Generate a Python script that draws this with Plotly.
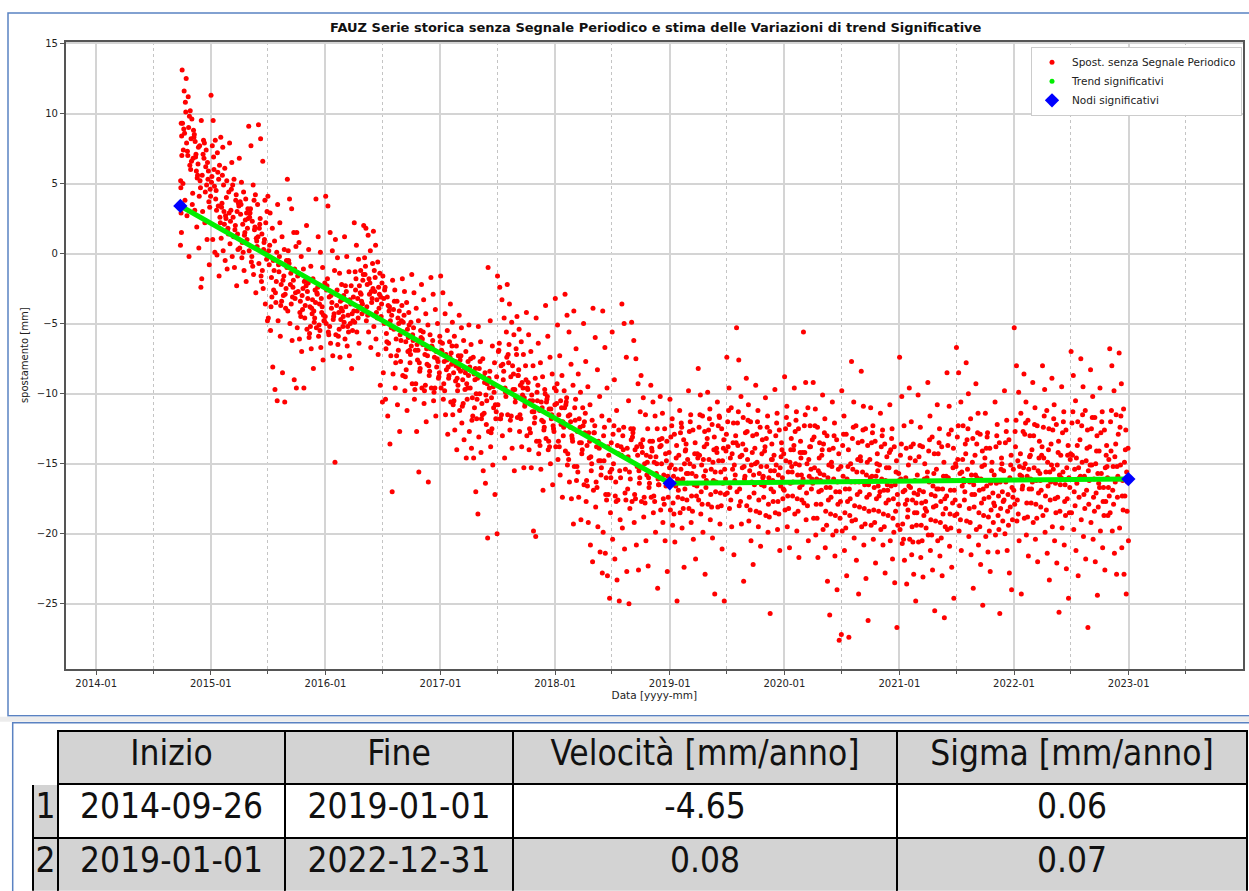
import math
import calendar
import pandas as pd
import plotly.graph_objects as go

# ---------------- data ----------------
# monthly groups of displacement values [mm], months separated by "|"
data_2014 = """0.6 1.5 4.7 7.0 9.3 |
13.1 11.6 12.5 11.2 10.2 9.3 8.6 7.9 9.0 6.0 5.0 3.8 2.7 -0.2 8.2 7.4 |
9.6 8.3 7.1 6.4 5.2 4.3 3.1 1.9 0.4 -2.4 8.8 6.9 5.6 7.7 3.5 |
9.5 8.1 6.2 5.3 4.6 3.0 2.2 1.0 -0.8 -1.8 6.8 7.4 5.9 4.1"""

data_2015 = """11.3 9.5 8.1 7.2 6.3 5.5 6.0 4.5 3.4 2.2 1.0 0.1 -0.1 -1.6 5.1 |
8.3 7.6 6.1 5.2 4.4 3.6 3.0 2.5 1.8 1.1 0.2 -0.5 -1.1 2.9 |
7.9 6.5 5.3 4.2 3.6 3.1 2.6 2.0 1.4 0.7 -0.2 -1.0 -2.3 3.4 |
6.8 5.1 4.4 3.9 3.2 2.8 2.1 1.5 1.0 0.4 -0.3 -1.2 -2.0 2.5 |
9.1 7.7 4.9 4.2 3.5 2.9 2.3 1.7 0.9 0.2 -0.6 -1.5 -2.8 1.2 |
9.2 8.2 6.6 3.8 3.0 2.1 1.4 0.8 0.0 -0.7 -1.6 -2.5 -3.6 -4.8 |
4.1 2.9 1.8 0.9 0.1 -0.8 -1.7 -2.6 -3.5 -4.6 -5.5 -8.1 -9.7 -10.5 |
3.5 2.2 1.2 0.3 -0.5 -1.3 -2.2 -3.0 -3.9 -4.8 -5.9 -8.5 -10.6 -1.0 |
5.3 3.9 3.2 1.5 0.5 -0.5 -1.4 -2.4 -3.2 -4.1 -5.0 -6.2 -9.0 -9.6 |
1.5 0.8 -0.2 -1.1 -1.9 -2.7 -3.4 -4.0 -4.6 -5.3 -6.1 -7.0 -9.6 -2.3 |
2.0 0.3 -0.9 -1.8 -2.6 -3.2 -3.8 -4.3 -4.9 -5.4 -6.0 -6.8 -8.2 -3.5 |
3.9 1.2 0.1 -1.0 -2.1 -2.9 -3.6 -4.2 -4.8 -5.3 -5.9 -6.7 -7.6 -4.5"""

data_2016 = """4.1 3.4 1.5 0.2 -1.2 -2.3 -3.1 -3.9 -4.5 -5.0 -5.6 -6.4 -7.3 -14.9 |
1.0 -0.3 -1.4 -2.2 -3.0 -3.7 -4.2 -4.7 -5.2 -5.8 -6.5 -7.4 -3.3 -4.9 |
1.2 -0.2 -1.3 -2.3 -3.1 -3.8 -4.4 -5.0 -5.5 -6.1 -6.6 -7.3 -8.2 -4.1 |
2.2 0.6 -0.4 -1.2 -1.9 -2.6 -3.2 -3.8 -4.3 -4.9 -5.6 -6.4 -2.9 -1.5 |
2.0 1.8 1.3 0.2 -0.7 -1.5 -2.2 -2.9 -3.5 -4.1 -4.8 -5.6 -6.7 -2.5 |
1.6 0.6 -0.6 -1.4 -2.1 -2.7 -3.3 -3.9 -4.5 -5.2 -6.1 -7.2 -9.4 -10.6 |
-1.6 -2.4 -3.1 -3.8 -4.4 -5.0 -5.7 -6.4 -7.3 -8.5 -10.4 -11.6 -13.6 -17.0 |
-1.9 -2.6 -3.4 -4.1 -4.8 -5.4 -6.1 -6.9 -7.7 -8.6 -9.6 -10.8 -12.7 -3.7 |
-1.8 -2.7 -3.5 -4.2 -4.9 -5.6 -6.3 -7.0 -7.8 -8.7 -9.8 -11.2 -5.1 -6.6 |
-1.5 -2.8 -3.9 -4.8 -5.5 -6.2 -6.9 -7.6 -8.4 -9.3 -10.4 -12.7 -15.6 -6.0 |
-2.2 -3.3 -4.3 -5.1 -5.8 -6.5 -7.2 -7.9 -8.7 -9.6 -10.7 -12.0 -16.3 -6.8 |
-1.7 -2.9 -4.0 -5.0 -5.9 -6.7 -7.4 -8.1 -8.8 -9.6 -10.5 -11.6 -7.7 -6.3"""

data_2017 = """-1.6 -2.8 -4.3 -5.5 -6.3 -7.0 -7.7 -8.3 -8.9 -9.6 -10.4 -11.5 -12.9 -7.4 |
-3.6 -4.9 -5.9 -6.6 -7.3 -7.9 -8.5 -9.1 -9.8 -10.6 -11.5 -12.6 -14.0 -8.2 |
-4.4 -5.3 -6.2 -7.0 -7.7 -8.4 -9.0 -9.7 -10.4 -11.2 -12.1 -13.3 -14.6 -8.7 |
-5.1 -6.5 -7.4 -8.2 -8.9 -9.6 -10.3 -11.0 -11.8 -12.7 -13.9 -14.6 -17.0 -18.6 |
-5.2 -6.3 -7.5 -8.5 -9.3 -10.0 -10.7 -11.4 -12.2 -13.1 -14.2 -15.5 -16.4 -20.3 |
-1.0 -4.8 -6.6 -7.8 -8.8 -9.6 -10.3 -11.0 -11.8 -12.7 -13.8 -15.1 -17.2 -20.0 |
-1.6 -2.4 -3.3 -4.6 -5.6 -6.9 -8.0 -9.0 -9.9 -10.8 -11.8 -13.0 -14.6 -7.4 |
-2.2 -3.6 -4.9 -5.8 -6.8 -7.8 -8.8 -9.7 -10.6 -11.5 -12.6 -13.9 -15.5 -7.2 |
-4.5 -5.4 -6.3 -7.2 -8.0 -8.7 -9.4 -10.1 -10.9 -11.7 -12.7 -13.8 -15.3 -9.0 |
-4.2 -5.8 -7.0 -8.0 -8.9 -9.7 -10.5 -11.3 -12.1 -13.0 -14.0 -15.3 -19.8 -20.2 |
-4.6 -6.4 -7.8 -8.8 -9.7 -10.5 -11.2 -11.9 -12.6 -13.4 -14.3 -15.4 -16.9 -10.0 |
-3.7 -5.9 -7.4 -8.6 -9.6 -10.4 -11.1 -11.8 -12.5 -13.2 -14.0 -15.0 -16.5 -10.8"""

data_2018 = """-3.2 -5.1 -7.3 -8.7 -9.8 -10.7 -11.5 -12.2 -13.0 -13.8 -14.7 -15.8 -17.4 -11.0 |
-2.9 -4.4 -5.6 -7.9 -9.4 -10.6 -11.6 -12.4 -13.2 -14.1 -15.1 -16.3 -17.5 -19.3 |
-4.1 -6.8 -8.6 -9.9 -11.0 -11.9 -12.7 -13.5 -14.3 -15.2 -16.2 -17.4 -19.0 -12.3 |
-5.0 -7.7 -9.5 -10.8 -11.9 -12.8 -13.7 -14.6 -15.5 -16.5 -17.7 -19.2 -20.8 -22.0 |
-3.9 -6.0 -8.3 -10.2 -11.6 -12.8 -13.8 -14.8 -15.8 -16.9 -18.1 -19.5 -21.3 -22.8 |
-4.1 -6.7 -9.6 -11.9 -13.5 -14.8 -16.0 -17.2 -18.5 -19.9 -21.4 -23.0 -24.6 -15.4 |
-5.6 -9.0 -11.2 -12.6 -13.8 -15.0 -16.3 -17.6 -19.0 -20.4 -21.8 -23.3 -24.8 -14.4 |
-3.6 -5.0 -7.4 -10.5 -12.5 -14.0 -15.4 -16.8 -18.2 -19.6 -21.1 -22.7 -25.0 -13.3 |
-4.9 -6.2 -7.5 -9.3 -11.3 -12.8 -14.0 -15.2 -16.4 -17.7 -19.2 -20.8 -22.6 -13.6 |
-8.7 -10.3 -11.5 -12.5 -13.4 -14.2 -15.0 -15.8 -16.7 -17.7 -18.8 -20.5 -22.3 -14.5 |
-9.4 -10.6 -11.6 -12.5 -13.3 -14.1 -14.9 -15.7 -16.5 -17.4 -18.5 -19.9 -23.9 -13.8 |
-10.2 -11.4 -12.5 -13.4 -14.2 -15.0 -15.8 -16.6 -17.4 -18.3 -19.2 -20.5 -22.7 -15.3"""

data_2019 = """-10.4 -11.8 -12.9 -13.7 -14.4 -15.1 -15.9 -16.6 -17.4 -18.3 -19.4 -20.6 -24.8 -16.2 |
-11.2 -12.4 -13.3 -14.0 -14.7 -15.4 -16.1 -16.8 -17.6 -18.5 -19.6 -22.4 -13.6 -15.7 |
-9.8 -11.5 -12.6 -13.5 -14.3 -15.0 -15.7 -16.5 -17.3 -18.2 -19.2 -20.4 -21.8 -14.6 |
-8.2 -10.1 -11.6 -12.7 -13.6 -14.4 -15.1 -15.9 -16.7 -17.6 -18.6 -19.9 -22.9 -13.2 |
-9.9 -11.1 -12.2 -13.1 -13.9 -14.7 -15.4 -16.2 -17.0 -17.9 -19.0 -20.3 -24.3 -14.2 |
-10.6 -11.7 -12.5 -13.3 -14.1 -14.8 -15.6 -16.4 -17.2 -18.1 -19.3 -21.1 -24.8 -12.9 |
-7.4 -9.6 -11.0 -12.1 -13.0 -13.8 -14.6 -15.4 -16.2 -17.1 -18.2 -19.5 -21.5 -13.5 |
-5.3 -7.6 -10.2 -11.7 -12.8 -13.7 -14.5 -15.3 -16.1 -17.0 -18.0 -19.3 -23.4 -14.0 |
-8.9 -10.8 -12.0 -13.0 -13.9 -14.7 -15.5 -16.3 -17.1 -18.0 -19.1 -20.5 -22.2 -15.0 |
-9.4 -11.2 -12.4 -13.3 -14.1 -14.9 -15.7 -16.5 -17.4 -18.4 -19.5 -20.9 -16.0 -13.8 |
-10.3 -11.6 -12.7 -13.6 -14.4 -15.2 -16.0 -16.8 -17.7 -18.7 -19.9 -25.7 -14.7 -15.5 |
-9.7 -11.4 -12.6 -13.5 -14.3 -15.1 -15.8 -16.6 -17.5 -18.5 -19.7 -21.2 -14.0 -16.9"""

data_2020 = """-8.8 -10.9 -12.2 -13.2 -14.0 -14.8 -15.6 -16.4 -17.3 -18.3 -19.5 -21.0 -15.2 -13.7 |
-9.6 -11.3 -12.5 -13.4 -14.2 -15.0 -15.8 -16.7 -17.6 -18.6 -19.8 -21.7 -14.6 -16.1 |
-5.6 -9.2 -11.0 -12.3 -13.3 -14.2 -15.0 -15.9 -16.8 -17.8 -19.0 -20.5 -13.8 -16.4 |
-9.2 -11.1 -12.4 -13.5 -14.4 -15.3 -16.1 -17.0 -17.9 -18.9 -20.1 -21.7 -15.7 -14.0 |
-10.1 -11.8 -13.0 -14.0 -14.9 -15.8 -16.7 -17.6 -18.6 -19.7 -21.0 -23.4 -25.8 -15.2 |
-10.6 -12.1 -13.3 -14.3 -15.2 -16.1 -17.0 -17.9 -18.9 -20.1 -21.6 -24.0 -27.6 -27.2 |
-9.8 -11.6 -12.9 -14.0 -15.0 -15.9 -16.8 -17.7 -18.7 -19.8 -21.2 -23.0 -27.4 -16.3 |
-7.7 -10.6 -12.3 -13.5 -14.5 -15.4 -16.3 -17.2 -18.1 -19.1 -20.3 -21.9 -24.3 -14.8 |
-8.4 -10.9 -12.5 -13.7 -14.7 -15.6 -16.5 -17.4 -18.4 -19.5 -20.8 -23.2 -26.2 -16.0 |
-11.0 -12.3 -13.4 -14.3 -15.1 -15.9 -16.7 -17.5 -18.4 -19.4 -20.4 -22.1 -15.5 -17.0 |
-11.4 -12.6 -13.6 -14.5 -15.3 -16.1 -16.9 -17.8 -18.7 -19.7 -20.8 -22.8 -16.5 -14.2 |
-10.8 -12.5 -13.8 -14.8 -15.7 -16.6 -17.5 -18.4 -19.4 -20.5 -21.8 -23.5 -26.7 -16.2"""

data_2021 = """-7.4 -10.2 -12.3 -13.9 -15.1 -16.1 -17.0 -17.9 -18.8 -19.7 -20.7 -21.9 -23.6 -16.6 |
-9.6 -12.0 -13.6 -14.8 -15.8 -16.7 -17.6 -18.5 -19.4 -20.4 -21.5 -22.9 -24.8 -17.2 |
-10.1 -12.4 -13.8 -15.0 -16.0 -16.9 -17.8 -18.7 -19.6 -20.6 -21.7 -23.1 -18.2 -15.6 |
-9.2 -11.6 -13.1 -14.3 -15.4 -16.3 -17.2 -18.1 -19.1 -20.1 -21.2 -22.6 -25.5 -16.8 |
-10.8 -12.5 -13.8 -14.9 -15.9 -16.8 -17.7 -18.6 -19.5 -20.5 -21.6 -23.0 -26.0 -17.3 |
-8.5 -10.9 -12.6 -13.9 -15.0 -16.0 -16.9 -17.8 -18.7 -19.7 -20.9 -22.4 -24.6 -15.2 |
-6.7 -8.5 -10.6 -12.3 -13.6 -14.7 -15.7 -16.6 -17.6 -18.6 -19.8 -21.2 -16.1 -14.3 |
-7.8 -10.0 -11.8 -13.2 -14.4 -15.4 -16.3 -17.2 -18.1 -19.1 -20.2 -21.5 -23.9 -15.8 |
-9.3 -11.4 -12.9 -14.1 -15.1 -16.0 -16.9 -17.8 -18.7 -19.7 -20.8 -22.2 -25.1 -14.6 |
-11.4 -12.8 -13.9 -14.9 -15.8 -16.6 -17.4 -18.3 -19.2 -20.2 -21.3 -22.7 -16.2 -18.0 |
-10.6 -12.2 -13.5 -14.6 -15.5 -16.4 -17.3 -18.2 -19.1 -20.1 -21.3 -25.7 -15.0 -17.6 |
-9.8 -11.9 -13.3 -14.4 -15.4 -16.3 -17.2 -18.1 -19.0 -20.0 -21.2 -22.8 -24.0 -16.9"""

data_2022 = """-5.3 -8.0 -9.9 -11.4 -12.7 -13.8 -14.8 -15.8 -16.8 -17.9 -19.1 -20.5 -24.3 -15.3 |
-8.6 -10.6 -11.9 -13.0 -14.0 -15.0 -15.9 -16.8 -17.8 -18.9 -20.1 -21.6 -14.4 -16.3 |
-9.2 -11.0 -12.3 -13.4 -14.4 -15.3 -16.2 -17.1 -18.1 -19.2 -20.4 -22.0 -15.7 -13.8 |
-8.0 -9.7 -11.2 -12.5 -13.6 -14.6 -15.6 -16.6 -17.6 -18.7 -19.9 -21.4 -23.3 -15.1 |
-8.9 -10.8 -12.2 -13.4 -14.4 -15.4 -16.4 -17.4 -18.4 -19.5 -20.5 -22.1 -25.6 -16.0 |
-9.5 -11.3 -12.6 -13.7 -14.7 -15.6 -16.5 -17.5 -18.5 -19.6 -20.8 -22.5 -24.6 -14.3 |
-7.0 -8.7 -10.5 -12.0 -13.3 -14.4 -15.4 -16.4 -17.4 -18.5 -19.7 -21.2 -23.0 -15.9 |
-7.5 -9.5 -11.2 -12.6 -13.8 -14.9 -15.9 -16.9 -17.9 -19.0 -20.2 -21.8 -26.7 -15.1 |
-8.3 -10.2 -11.7 -13.0 -14.1 -15.1 -16.1 -17.1 -18.1 -19.2 -20.4 -22.0 -24.4 -16.7 |
-9.6 -11.3 -12.6 -13.7 -14.7 -15.7 -16.7 -17.7 -18.7 -19.8 -21.0 -22.6 -15.2 -17.3 |
-6.8 -8.0 -9.8 -11.5 -12.9 -14.1 -15.2 -16.3 -17.4 -18.5 -19.8 -21.4 -22.9 -16.1 |
-7.1 -9.3 -11.1 -12.6 -13.9 -15.1 -16.2 -17.3 -18.4 -19.6 -21.0 -22.9 -24.3 -20.5"""

# additional observations in the dense core of the cloud, same month layout
core_2014 = """5.2 8.4 2.9 |
10.8 7.3 9.8 6.6 8.9 10.1 7.0 6.3 |
8.5 5.9 7.6 4.7 6.8 8.0 5.4 4.1 |
7.1 4.4 6.5 3.3 5.6 7.9 4.9 3.7"""

core_2015 = """6.9 3.9 5.8 2.6 7.7 4.8 3.1 5.3 |
5.6 2.1 4.0 1.4 3.3 4.9 2.7 1.7 |
4.6 1.2 3.8 0.3 2.3 4.9 1.7 3.0 |
3.5 0.1 2.4 1.8 3.7 0.8 1.3 2.9 |
3.2 -0.9 1.9 0.5 2.6 -0.2 3.8 1.1 |
2.5 -1.2 1.0 -0.4 1.8 -2.0 0.3 2.2 |
0.6 -3.1 -1.2 -2.0 0.2 -3.8 -0.5 -2.8 |
-0.2 -3.4 -1.6 -2.5 -0.8 -3.7 -1.9 -2.9 |
-0.7 -3.6 -1.9 -2.8 0.2 -2.2 -3.1 -1.1 |
-1.4 -4.5 -2.5 -3.7 -1.6 -4.2 -3.0 -2.0 |
-2.1 -5.2 -3.3 -4.6 -2.7 -5.7 -3.9 -4.1 |
-2.4 -5.5 -3.8 -4.8 -2.8 -5.1 -3.2 -4.4"""

core_2016 = """-1.8 -5.2 -3.5 -4.3 -2.6 -5.8 -3.0 -4.7 |
-2.6 -5.4 -3.9 -4.5 -2.9 -5.9 -3.4 -4.1 |
-2.7 -5.6 -3.6 -4.8 -2.3 -5.2 -3.3 -4.3 |
-1.8 -4.6 -2.8 -3.6 -1.3 -4.1 -2.3 -3.4 |
-0.9 -4.4 -2.1 -3.2 -0.3 -3.8 -1.8 -2.7 |
-1.7 -4.6 -2.9 -3.6 -1.2 -4.2 -2.4 -3.1 |
-2.6 -6.3 -4.1 -5.3 -3.2 -6.8 -3.7 -4.8 |
-3.4 -7.3 -5.0 -6.2 -4.0 -7.8 -4.6 -5.8 |
-4.4 -8.3 -6.0 -7.2 -4.9 -8.8 -5.4 -6.9 |
-5.3 -9.3 -6.9 -8.2 -5.8 -9.7 -6.5 -7.8 |
-5.6 -9.4 -7.3 -8.4 -6.1 -9.8 -6.8 -8.0 |
-6.2 -9.6 -7.5 -8.5 -6.6 -9.9 -7.0 -8.9"""

core_2017 = """-6.4 -9.8 -7.6 -8.7 -6.9 -9.3 -7.2 -8.1 |
-6.6 -10.5 -8.0 -9.4 -7.1 -10.8 -7.7 -8.9 |
-7.3 -10.7 -8.5 -9.6 -7.6 -10.9 -8.2 -9.3 |
-7.5 -11.6 -9.0 -10.4 -8.1 -11.9 -8.6 -10.0 |
-7.7 -11.5 -9.2 -10.5 -8.2 -11.8 -8.8 -10.1 |
-8.4 -12.5 -9.9 -11.3 -8.9 -12.8 -9.5 -10.8 |
-6.4 -11.5 -8.4 -10.2 -7.0 -11.8 -7.9 -9.6 |
-6.5 -11.6 -8.6 -10.3 -7.2 -11.9 -8.0 -9.7 |
-8.3 -11.8 -9.6 -10.7 -8.7 -11.5 -9.2 -10.3 |
-9.2 -12.8 -10.5 -11.7 -9.6 -12.5 -10.1 -11.3 |
-9.4 -13.7 -11.0 -12.4 -9.9 -13.4 -10.6 -12.0 |
-10.2 -13.8 -11.5 -12.7 -10.6 -13.4 -11.1 -12.3"""

core_2018 = """-9.3 -13.8 -11.0 -12.4 -9.8 -13.4 -10.5 -12.0 |
-10.3 -14.7 -12.0 -13.4 -10.8 -14.3 -11.5 -13.0 |
-10.4 -15.6 -12.4 -14.0 -11.0 -15.2 -11.8 -13.5 |
-11.4 -16.6 -13.4 -15.0 -12.0 -16.2 -12.8 -14.5 |
-12.3 -16.7 -13.9 -15.3 -12.8 -16.3 -13.4 -14.8 |
-12.4 -17.6 -14.4 -16.0 -13.0 -17.2 -13.8 -15.6 |
-12.3 -17.7 -14.3 -16.0 -12.9 -17.3 -13.7 -15.5 |
-12.4 -17.6 -14.5 -16.1 -13.0 -17.1 -13.9 -15.6 |
-12.5 -17.5 -14.4 -16.0 -13.1 -17.2 -13.8 -15.5 |
-13.3 -17.8 -14.9 -16.4 -13.8 -17.4 -14.4 -16.0 |
-13.4 -17.7 -15.0 -16.5 -13.9 -17.3 -14.5 -16.1 |
-13.2 -17.9 -14.8 -16.4 -13.7 -17.5 -14.3 -15.9"""

core_2019 = """-12.3 -18.6 -14.6 -16.9 -13.1 -17.8 -15.4 -16.1 |
-12.1 -18.2 -14.1 -16.4 -12.8 -17.5 -15.0 -15.7 |
-12.0 -18.4 -14.3 -16.6 -12.7 -17.3 -15.2 -15.9 |
-11.5 -17.9 -13.8 -16.2 -12.4 -17.0 -14.7 -15.5 |
-11.8 -18.1 -14.0 -16.3 -12.6 -17.2 -14.9 -15.6 |
-11.6 -18.0 -13.9 -16.1 -12.3 -17.1 -14.8 -15.4 |
-11.2 -17.6 -13.5 -15.8 -12.0 -16.7 -14.3 -15.1 |
-11.3 -17.7 -13.6 -15.9 -12.1 -16.8 -14.4 -15.2 |
-11.9 -18.3 -14.2 -16.5 -12.7 -17.4 -15.1 -15.8 |
-12.0 -18.5 -14.3 -16.6 -12.9 -17.6 -15.2 -15.9 |
-12.4 -18.8 -14.7 -17.0 -13.2 -17.9 -15.5 -16.2 |
-12.1 -18.6 -14.5 -16.8 -13.0 -17.7 -15.3 -16.0"""

core_2020 = """-11.7 -18.2 -14.0 -16.3 -12.5 -17.3 -14.9 -15.6 |
-11.9 -18.4 -14.2 -16.5 -12.7 -17.5 -15.1 -15.8 |
-11.5 -18.0 -13.8 -16.1 -12.3 -17.1 -14.7 -15.4 |
-12.3 -18.9 -14.6 -16.9 -13.1 -17.9 -15.5 -16.2 |
-12.8 -19.4 -15.1 -17.4 -13.6 -18.4 -16.0 -16.7 |
-13.0 -19.8 -15.4 -17.7 -13.9 -18.7 -16.3 -17.0 |
-12.9 -19.6 -15.2 -17.5 -13.7 -18.5 -16.1 -16.8 |
-12.4 -19.0 -14.7 -17.0 -13.2 -18.0 -15.6 -16.3 |
-12.6 -19.3 -14.9 -17.2 -13.4 -18.2 -15.8 -16.5 |
-12.8 -19.2 -15.0 -17.3 -13.5 -18.3 -15.9 -16.6 |
-13.0 -19.5 -15.3 -17.6 -13.8 -18.6 -16.2 -16.9 |
-13.2 -19.9 -15.6 -17.9 -14.0 -18.9 -16.5 -17.2"""

core_2021 = """-13.6 -20.4 -16.0 -18.3 -14.4 -19.3 -16.9 -17.6 |
-13.8 -20.6 -16.2 -18.5 -14.6 -19.5 -17.1 -17.8 |
-13.7 -20.5 -16.1 -18.4 -14.5 -19.4 -17.0 -17.7 |
-13.3 -20.1 -15.7 -18.0 -14.1 -19.0 -16.6 -17.3 |
-13.5 -20.3 -15.9 -18.2 -14.3 -19.2 -16.8 -17.5 |
-12.9 -19.6 -15.3 -17.6 -13.7 -18.6 -16.2 -16.9 |
-12.3 -19.0 -14.7 -17.0 -13.1 -18.0 -15.6 -16.3 |
-12.5 -19.2 -14.9 -17.2 -13.3 -18.2 -15.8 -16.5 |
-12.8 -19.5 -15.2 -17.5 -13.6 -18.5 -16.1 -16.8 |
-13.1 -19.8 -15.5 -17.8 -13.9 -18.8 -16.4 -17.1 |
-13.0 -19.7 -15.4 -17.7 -13.8 -18.7 -16.3 -17.0 |
-12.7 -19.4 -15.1 -17.4 -13.5 -18.4 -16.0 -16.7"""

core_2022 = """-11.9 -18.6 -14.3 -16.6 -12.7 -17.6 -15.2 -15.9 |
-12.1 -18.8 -14.5 -16.8 -12.9 -17.8 -15.4 -16.1 |
-12.2 -18.9 -14.6 -16.9 -13.0 -17.9 -15.5 -16.2 |
-11.6 -18.3 -14.0 -16.3 -12.4 -17.3 -14.9 -15.6 |
-11.8 -18.5 -14.2 -16.5 -12.6 -17.5 -15.1 -15.8 |
-12.0 -18.7 -14.4 -16.7 -12.8 -17.7 -15.3 -16.0 |
-11.3 -18.0 -13.7 -16.0 -12.1 -17.0 -14.6 -15.3 |
-11.5 -18.2 -13.9 -16.2 -12.3 -17.2 -14.8 -15.5 |
-11.7 -18.4 -14.1 -16.4 -12.5 -17.4 -15.0 -15.7 |
-12.0 -18.7 -14.4 -16.7 -12.8 -17.7 -15.3 -16.0 |
-11.2 -17.9 -13.6 -15.9 -12.0 -16.9 -14.5 -15.2 |
-11.6 -18.3 -14.0 -16.3 -12.4 -17.3 -14.9 -15.6"""

series_start = "2014-09-26"
year_blocks = [(2014, 9, data_2014, core_2014), (2015, 1, data_2015, core_2015),
               (2016, 1, data_2016, core_2016), (2017, 1, data_2017, core_2017),
               (2018, 1, data_2018, core_2018), (2019, 1, data_2019, core_2019),
               (2020, 1, data_2020, core_2020), (2021, 1, data_2021, core_2021),
               (2022, 1, data_2022, core_2022)]

# significant nodes of the trend
node_dates = ["2014-09-26", "2019-01-01", "2022-12-31"]
node_values = [3.4, -16.4, -16.1]

# table
tab_header = ["", "Inizio", "Fine", "Velocità [mm/anno]", "Sigma [mm/anno]"]
tab_index = ["1", "2"]
tab_inizio = ["2014-09-26", "2019-01-01"]
tab_fine = ["2019-01-01", "2022-12-31"]
tab_vel = ["-4.65", "0.08"]
tab_sigma = ["0.06", "0.07"]

# ---------------- build observation dates ----------------
start_ts = pd.Timestamp(series_start)
obs_dates, obs_vals = [], []
for yr, m0, block, core in year_blocks:
    for i, (chunk, chunk2) in enumerate(zip(block.split("|"), core.split("|"))):
        m = m0 + i
        v = [float(t) for t in chunk.split()] + [float(t) for t in chunk2.split()]
        n = len(v)
        ndays = calendar.monthrange(yr, m)[1]
        first = start_ts.day if (yr, m) == (start_ts.year, start_ts.month) else 1
        span = ndays - first + 1
        stride = next(s for s in (5, 3, 7, 11, 13) if math.gcd(s, n) == 1)
        for k, val in enumerate(v):
            slot = (k * stride) % n
            day = first + (slot + 0.5) * span / n
            obs_dates.append(pd.Timestamp(yr, m, 1) + pd.Timedelta(days=day - 1))
            obs_vals.append(val)

# ---------------- figure ----------------
W, H = 1249, 891
def px(x):
    return x / W
def py(y):
    return 1 - y / H

FONT = "DejaVu Sans"
fig = go.Figure()

fig.add_trace(go.Scatter(
    x=obs_dates, y=obs_vals, mode="markers",
    marker=dict(color="red", size=5),
    name="Spost. senza Segnale Periodico"))

fig.add_trace(go.Scatter(
    x=node_dates, y=node_values, mode="lines",
    line=dict(color="#00ee00", width=5), showlegend=False,
    hoverinfo="skip"))
fig.add_trace(go.Scatter(
    x=[None], y=[None], mode="markers",
    marker=dict(color="#00ee00", size=5),
    name="Trend significativi"))

fig.add_trace(go.Scatter(
    x=node_dates, y=node_values, mode="markers",
    marker=dict(color="blue", size=11, symbol="diamond"),
    name="Nodi significativi"))

grey_fill = "#d3d3d3"
TFONT = "DejaVu Sans Condensed, DejaVu Sans"
fig.add_trace(go.Table(
    domain=dict(x=[px(33), px(1247)], y=[0, py(730)]),
    columnwidth=[25, 227, 228, 384, 350],
    header=dict(
        values=tab_header,
        fill_color=["white", grey_fill, grey_fill, grey_fill, grey_fill],
        line=dict(color=["white", "black", "black", "black", "black"], width=2),
        font=dict(family=TFONT, size=35, color="#111"),
        align="center", height=53),
    cells=dict(
        values=[tab_index, tab_inizio, tab_fine, tab_vel, tab_sigma],
        fill_color=[[grey_fill, grey_fill], ["white", grey_fill], ["white", grey_fill],
                    ["white", grey_fill], ["white", grey_fill]],
        line=dict(color="black", width=2),
        font=dict(family=TFONT, size=35, color="#111"),
        align="center", height=54),
))

fig.update_layout(
    width=W, height=H, autosize=False,
    margin=dict(l=0, r=0, t=0, b=0),
    paper_bgcolor="white", plot_bgcolor="white",
    font=dict(family=FONT, size=10, color="#222"),
    title=dict(
        text="<b>FAUZ Serie storica senza Segnale Periodico e stima delle Variazioni di trend Significative</b>",
        x=0.525, xanchor="center", y=py(27), yanchor="middle",
        font=dict(family=FONT, size=13, color="#111")),
    legend=dict(
        x=px(1242), xanchor="right", y=py(43), yanchor="top",
        bgcolor="white", bordercolor="#cccccc", borderwidth=1,
        font=dict(family=FONT, size=10.5, color="#222"),
        tracegroupgap=0, itemsizing="trace"),
    xaxis=dict(
        domain=[px(65.7), px(1243)],
        type="date", range=["2013-09-26", "2023-12-31"],
        tick0="2014-01-01", dtick="M12", tickformat="%Y-%m",
        showgrid=True, gridcolor="#d4d4d4", gridwidth=1.5,
        ticks="outside", ticklen=4, tickcolor="#555",
        showline=True, linecolor="#555", linewidth=1.6, mirror=True,
        zeroline=False,
        minor=dict(tick0="2014-01-01", dtick="M6", showgrid=True,
                   griddash="dot", gridcolor="#c4c4c4", gridwidth=1,
                   ticks="outside", ticklen=3, tickcolor="#555"),
        title=dict(text="Data [yyyy-mm]", standoff=4,
                   font=dict(family=FONT, size=10.5, color="#222")),
        tickfont=dict(family=FONT, size=10, color="#222")),
    yaxis=dict(
        domain=[py(668), py(37.7)],
        range=[-29.66, 15.14], dtick=5, tick0=0,
        showgrid=True, gridcolor="#d4d4d4", gridwidth=1.5,
        ticks="outside", ticklen=4, tickcolor="#555",
        showline=True, linecolor="#555", linewidth=1.6, mirror=True,
        zeroline=False,
        title=dict(text="spostamento [mm]", standoff=6,
                   font=dict(family=FONT, size=10, color="#222")),
        tickfont=dict(family=FONT, size=10, color="#222")),
    shapes=[
        dict(type="rect", xref="paper", yref="paper",
             x0=px(8), x1=px(1256), y0=py(715), y1=py(9),
             line=dict(color="#5a82c2", width=1.5), layer="below"),
        dict(type="rect", xref="paper", yref="paper",
             x0=px(0), x1=px(1249), y0=py(721), y1=py(716),
             fillcolor="#ececec", line=dict(width=0), layer="below"),
        dict(type="rect", xref="paper", yref="paper",
             x0=px(12.7), x1=px(1256), y0=py(900), y1=py(722),
             line=dict(color="#5a82c2", width=1.5), layer="below"),
    ],
)

fig.write_html(
    "out.html",
    config={"displayModeBar": False},
    post_script="document.body.style.margin='0px';document.body.style.overflow='hidden';",
)
